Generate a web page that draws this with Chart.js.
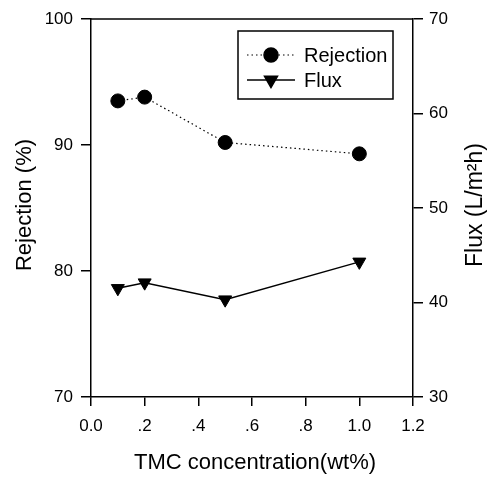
<!DOCTYPE html>
<html lang="en">
<head>
    <meta charset="UTF-8">
    <title>Rejection and Flux vs TMC concentration</title>
    <script src="https://cdn.jsdelivr.net/npm/chart.js"></script>
    <style>
        body {
            margin: 0;
            background: #fff;
        }
        #chartBox {
            width: 494px;
            height: 479px;
        }
    </style>
</head>
<body>

<div id="chartBox">
    <canvas id="tmcChart" width="494" height="479"></canvas>
</div>

<script>
    // TMC concentration (wt%)
    const tmcConc = [0.1, 0.2, 0.5, 1.0];
    // Rejection (%) - left axis
    const rejection = [93.5, 93.8, 90.2, 89.3];
    // Flux (L/m2h) - right axis
    const flux = [41.5, 42.1, 40.3, 44.3];
    // x tick labels, 0.0 to 1.2 step .2
    const xTickLabels = ['0.0', '.2', '.4', '.6', '.8', '1.0', '1.2'];

    const FONT = 'Liberation Sans, Arial, sans-serif';

    // axis titles, legend box and top frame line
    const extras = {
        id: 'extras',
        afterDraw(chart) {
            const ctx = chart.ctx;
            const area = chart.chartArea;
            ctx.save();

            // top edge of frame
            ctx.strokeStyle = '#000';
            ctx.lineWidth = 1.5;
            ctx.beginPath();
            ctx.moveTo(area.left, area.top);
            ctx.lineTo(area.right, area.top);
            ctx.stroke();

            ctx.fillStyle = '#000';
            ctx.font = '22px ' + FONT;
            ctx.textAlign = 'center';
            ctx.textBaseline = 'middle';
            ctx.fillText('TMC concentration(wt%)', 255, 463);

            ctx.save();
            ctx.translate(25, 205);
            ctx.rotate(-Math.PI / 2);
            ctx.fillText('Rejection (%)', 0, 0);
            ctx.restore();

            ctx.save();
            ctx.translate(476, 205);
            ctx.rotate(-Math.PI / 2);
            ctx.font = '23px ' + FONT;
            ctx.fillText('Flux (L/m\u00B2h)', 0, 0);
            ctx.restore();

            // legend
            ctx.lineWidth = 1.5;
            ctx.strokeRect(238, 31, 155, 68);
            ctx.font = '20px ' + FONT;
            ctx.textAlign = 'left';
            const rows = [55, 80];
            chart.data.datasets.forEach((ds, i) => {
                const y = rows[i];
                ctx.save();
                ctx.strokeStyle = '#000';
                ctx.lineWidth = ds.borderWidth;
                ctx.setLineDash(ds.borderDash || []);
                ctx.beginPath();
                ctx.moveTo(247, y);
                ctx.lineTo(295, y);
                ctx.stroke();
                ctx.restore();
                ctx.fillStyle = '#000';
                ctx.strokeStyle = '#000';
                Chart.helpers.drawPoint(ctx, {
                    pointStyle: ds.pointStyle,
                    rotation: ds.pointRotation || 0,
                    radius: ds.pointRadius,
                    borderWidth: 1
                }, 271, y);
                ctx.fillStyle = '#000';
                ctx.fillText(ds.label, 304, y + 1);
            });

            ctx.restore();
        }
    };

    const ctx = document.getElementById('tmcChart').getContext('2d');
    const tmcChart = new Chart(ctx, {
        type: 'line',
        data: {
            datasets: [{
                label: 'Rejection',
                data: tmcConc.map((x, i) => ({ x: x, y: rejection[i] })),
                yAxisID: 'y',
                borderColor: '#000',
                backgroundColor: '#000',
                borderWidth: 1.2,
                borderDash: [1.5, 3],
                pointStyle: 'circle',
                pointRadius: 7,
                pointBorderWidth: 1,
                fill: false
            }, {
                label: 'Flux',
                data: tmcConc.map((x, i) => ({ x: x, y: flux[i] })),
                yAxisID: 'y1',
                borderColor: '#000',
                backgroundColor: '#000',
                borderWidth: 1.5,
                pointStyle: 'triangle',
                pointRotation: 180,
                pointRadius: 7.5,
                pointBorderWidth: 1,
                fill: false
            }]
        },
        options: {
            responsive: false,
            animation: false,
            devicePixelRatio: 1,
            layout: {
                padding: { top: 19, left: 0, right: 0, bottom: 0 }
            },
            plugins: {
                legend: { display: false },
                tooltip: { enabled: false }
            },
            scales: {
                x: {
                    type: 'linear',
                    min: 0,
                    max: 1.2,
                    afterFit(scale) { scale.height = 82; },
                    afterBuildTicks(scale) {
                        scale.ticks = xTickLabels.map((t, i) => ({ value: i * 0.2 }));
                    },
                    ticks: {
                        color: '#000',
                        font: { family: FONT, size: 17 },
                        padding: 10,
                        maxRotation: 0,
                        callback: (v, i) => xTickLabels[i]
                    },
                    grid: {
                        drawOnChartArea: false,
                        tickLength: 9,
                        color: '#000',
                        lineWidth: 1.5
                    },
                    border: { color: '#000', width: 1.5 }
                },
                y: {
                    position: 'left',
                    min: 70,
                    max: 100,
                    afterFit(scale) { scale.width = 91; },
                    ticks: {
                        stepSize: 10,
                        color: '#000',
                        font: { family: FONT, size: 17 },
                        padding: 8
                    },
                    grid: {
                        drawOnChartArea: false,
                        tickLength: 10,
                        color: '#000',
                        lineWidth: 1.5
                    },
                    border: { color: '#000', width: 1.5 }
                },
                y1: {
                    position: 'right',
                    min: 30,
                    max: 70,
                    afterFit(scale) { scale.width = 81; },
                    ticks: {
                        stepSize: 10,
                        color: '#000',
                        font: { family: FONT, size: 17 },
                        padding: 6
                    },
                    grid: {
                        drawOnChartArea: false,
                        tickLength: 10,
                        color: '#000',
                        lineWidth: 1.5
                    },
                    border: { color: '#000', width: 1.5 }
                }
            }
        },
        plugins: [extras]
    });
</script>

</body>
</html>
